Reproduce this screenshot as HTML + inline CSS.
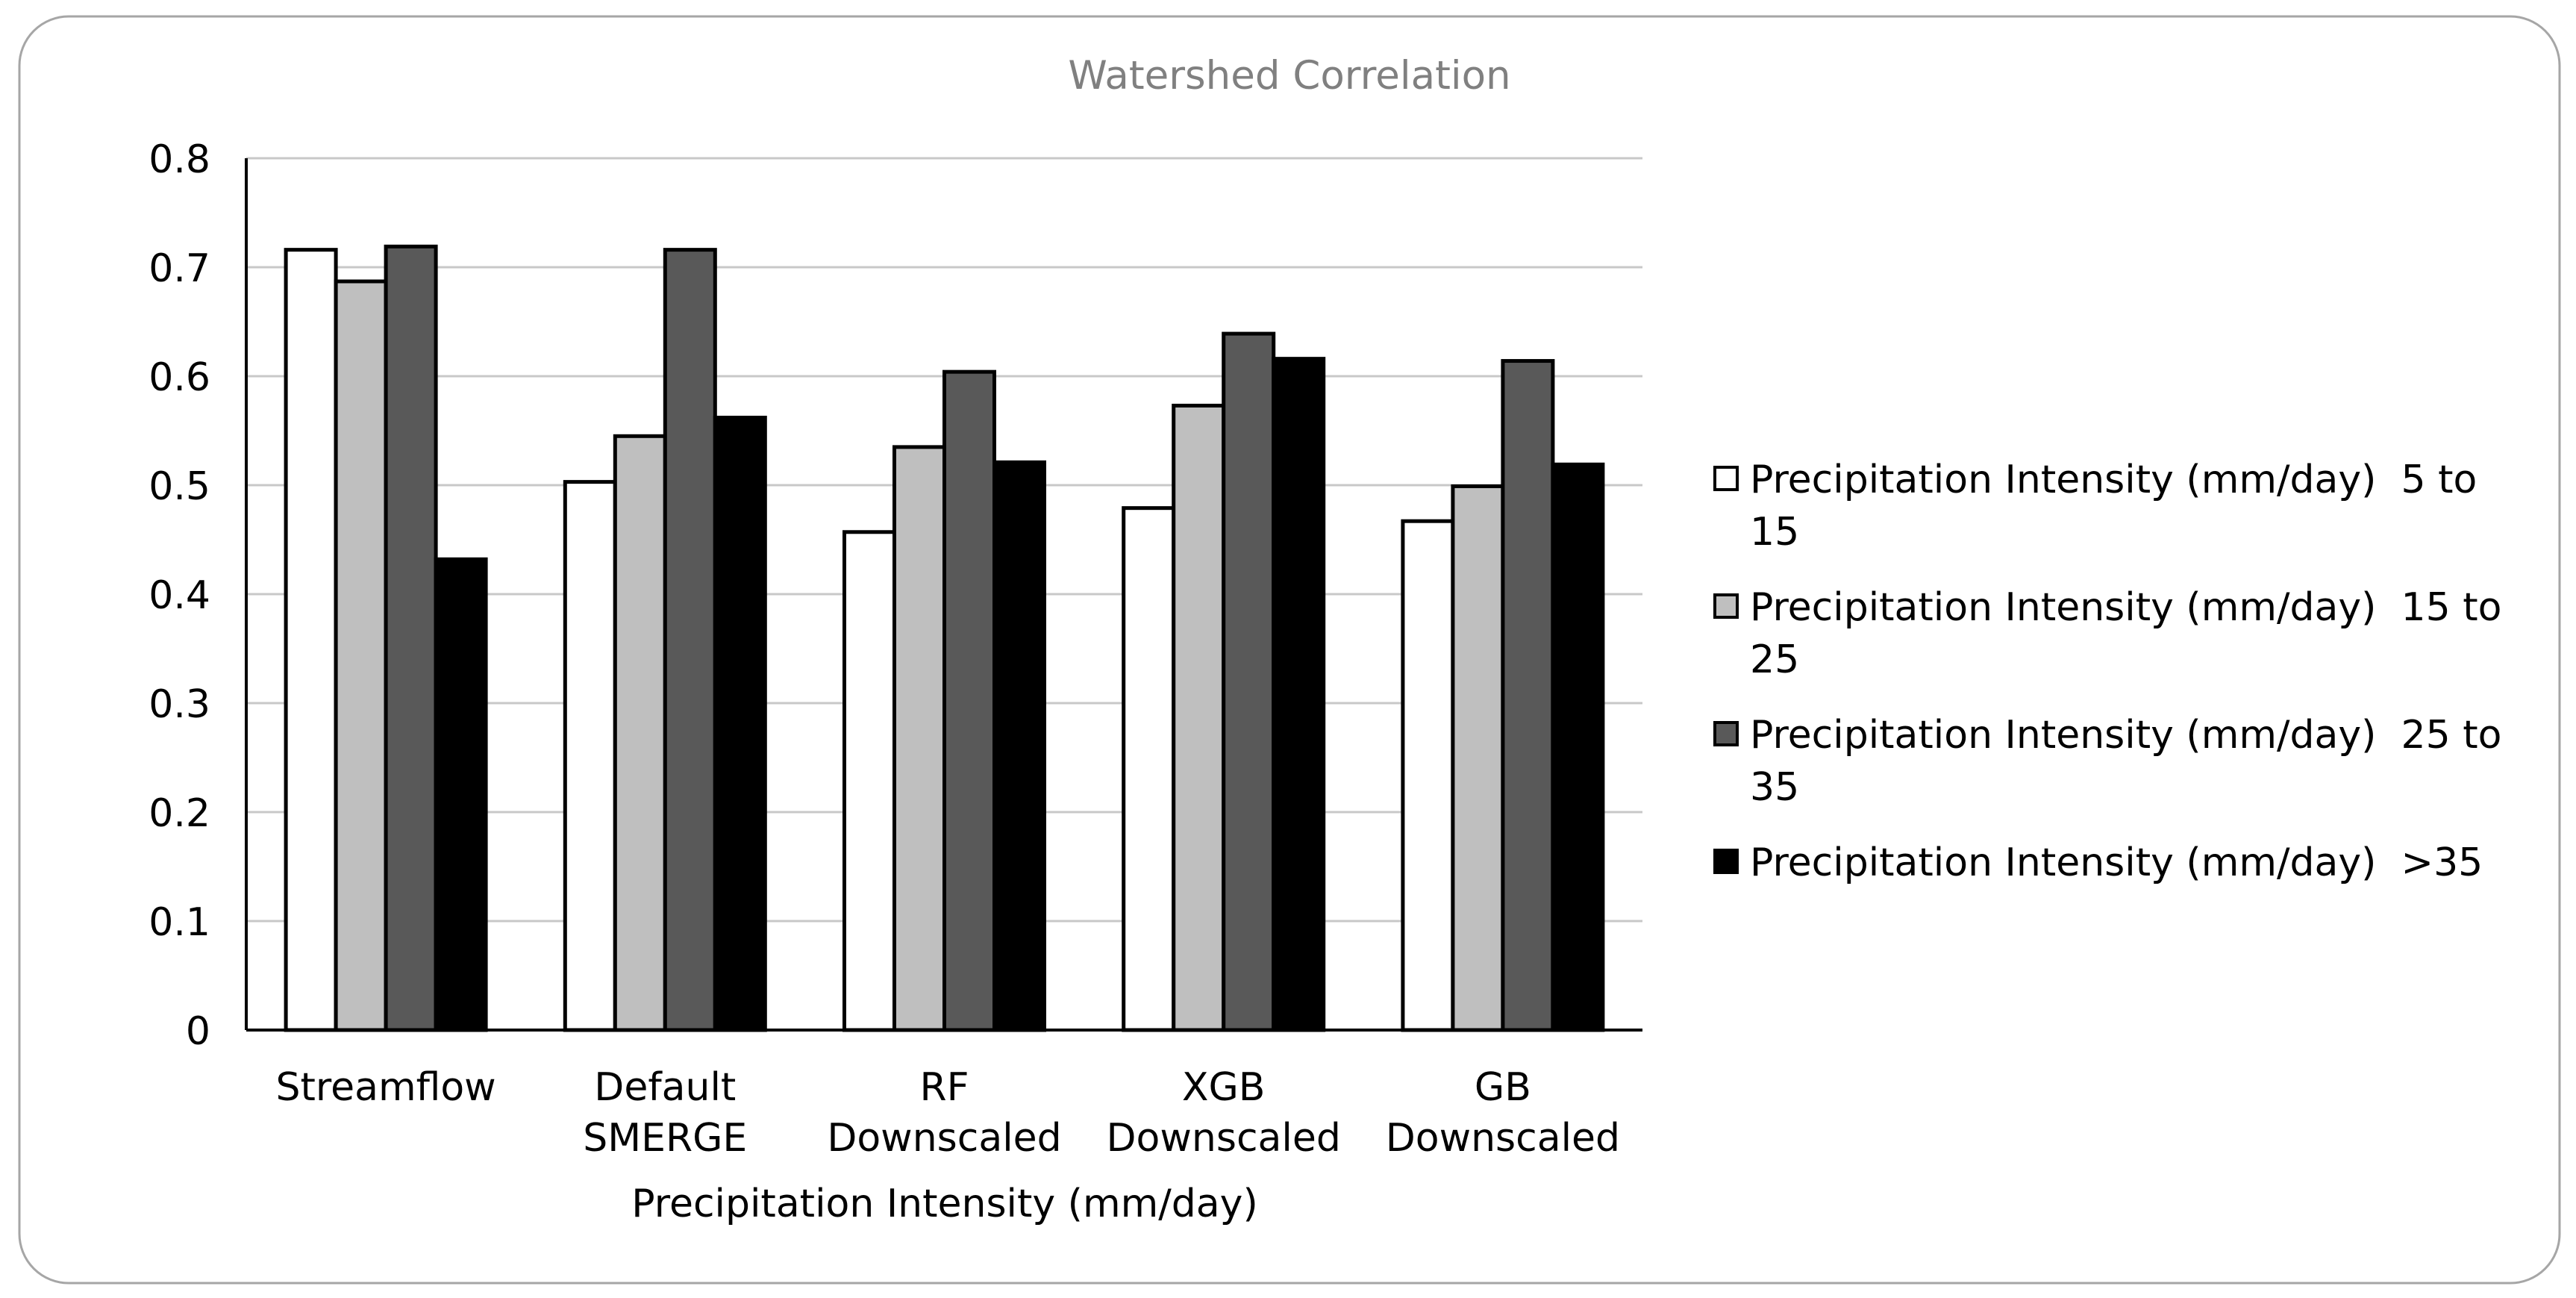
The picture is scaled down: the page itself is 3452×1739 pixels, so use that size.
<!DOCTYPE html>
<html><head><meta charset="utf-8"><style>
html,body{margin:0;padding:0;background:#fff;}
svg{display:block;font-family:"DejaVu Sans","Liberation Sans",sans-serif;}
</style></head><body>
<svg id="chart" width="3452" height="1739" viewBox="0 0 3452 1739">
<rect x="26" y="22" width="3404" height="1697" rx="66" ry="66" fill="#fff" stroke="#a6a6a6" stroke-width="3"/>
<text x="1728" y="119" font-size="53" fill="#808080" text-anchor="middle">Watershed Correlation</text>
<g id="grid"></g><g id="bars"></g><g id="axes"></g><g id="legend"></g>
</svg>
<script>
const categories = [["Streamflow"],["Default","SMERGE"],["RF","Downscaled"],["XGB","Downscaled"],["GB","Downscaled"]];
const s1 = [0.716, 0.503, 0.457, 0.479, 0.467];
const s2 = [0.687, 0.545, 0.535, 0.573, 0.499];
const s3 = [0.719, 0.716, 0.604, 0.639, 0.614];
const s4 = [0.432, 0.562, 0.521, 0.616, 0.519];
const seriesNames = ["Precipitation Intensity (mm/day)  5 to|15","Precipitation Intensity (mm/day)  15 to|25","Precipitation Intensity (mm/day)  25 to|35","Precipitation Intensity (mm/day)  >35"];
const ticks = [0,0.1,0.2,0.3,0.4,0.5,0.6,0.7,0.8];
const tickLabels = ["0","0.1","0.2","0.3","0.4","0.5","0.6","0.7","0.8"];
const fills = ["#ffffff","#bfbfbf","#595959","#000000"];
const NS="http://www.w3.org/2000/svg";
const X0=330,X1=2201,Y0=1380,Y1=212;
const yScale=v=>Y0-(v/0.8)*(Y0-Y1);
const groupW=(X1-X0)/categories.length;
const barW=67;
function mk(t,a,p){const e=document.createElementNS(NS,t);for(const k in a)e.setAttribute(k,a[k]);p.appendChild(e);return e;}
const grid=document.getElementById('grid'),bars=document.getElementById('bars'),axes=document.getElementById('axes'),legend=document.getElementById('legend');
ticks.forEach((t,i)=>{
  const y=yScale(t);
  if(t>0){const l=mk('line',{x1:X0,x2:X1,y1:y,y2:y,stroke:'#c8c8c8','stroke-width':3},grid);
  
  }
  const tx=mk('text',{x:282,y:y+19,'font-size':52,'text-anchor':'end',fill:'#000'},axes);
  tx.textContent=tickLabels[i];
  
  
});
const all=[s1,s2,s3,s4];
categories.forEach((c,ci)=>{
  const gx=X0+ci*groupW+(groupW-4*barW)/2;
  all.forEach((s,si)=>{
    const y=yScale(s[ci]);
    const r=mk('rect',{x:gx+si*barW,y:y,width:barW,height:Y0-y,fill:fills[si],stroke:'#000','stroke-width':5},bars);
    
    
  });
  c.forEach((ln,li)=>{
    const t=mk('text',{x:X0+(ci+0.5)*groupW,y:1474+li*68,'font-size':52,'text-anchor':'middle',fill:'#000'},axes);
    t.textContent=ln;
    
    
  });
});
const ya=mk('line',{x1:X0,x2:X0,y1:Y1,y2:Y0,stroke:'#000','stroke-width':4},axes);


const xa=mk('line',{x1:X0,x2:X1,y1:Y0,y2:Y0,stroke:'#000','stroke-width':4},axes);


const xt=mk('text',{x:1266,y:1630,'font-size':52,'text-anchor':'middle',fill:'#000'},axes);
xt.textContent="Precipitation Intensity (mm/day)";


seriesNames.forEach((n,i)=>{
  const cy=641+i*171;
  const b=mk('rect',{x:2298,y:cy-15,width:30,height:30,fill:fills[i],stroke:'#000','stroke-width':4},legend);
  
  
  n.split('|').forEach((ln,li)=>{
    const t=mk('text',{x:2345,y:cy+19+li*70,'font-size':52,fill:'#000','xml:space':'preserve'},legend);
    t.style.whiteSpace='pre';
    t.textContent=ln;
    
    
  });
});
</script>
</body></html>
